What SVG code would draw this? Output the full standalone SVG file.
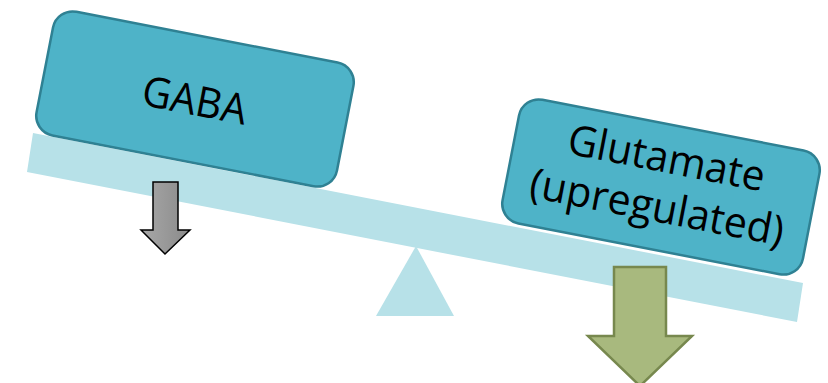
<svg xmlns="http://www.w3.org/2000/svg" width="828" height="383" viewBox="0 0 828 383">
  <style>
    .beam { fill: #B7E1E8; }
    .box { fill: #4EB3C8; stroke: #2F8193; stroke-width: 2.5; }
    .label { font-family: "Open Sans", "Noto Sans", sans-serif; font-size: 42px; fill: #000; text-anchor: middle; }
  </style>
  <defs>
    <linearGradient id="grayFill" x1="0" y1="0" x2="1" y2="0">
      <stop offset="0" stop-color="#a8a8a8"/>
      <stop offset="1" stop-color="#8a8a8a"/>
    </linearGradient>
  </defs>

  <!-- seesaw: fulcrum and tilted beam -->
  <g id="seesaw">
    <polygon class="beam" points="416,246 454,316 376,316"/>
    <polygon class="beam" points="33,133 803,283 797,322 27,172"/>
  </g>

  <!-- weights resting on the beam -->
  <g id="gaba" transform="translate(195,99) rotate(11)">
    <rect class="box" x="-153" y="-63" width="306" height="126" rx="20"/>
    <text class="label" x="0" y="16" textLength="106" lengthAdjust="spacingAndGlyphs">GABA</text>
  </g>

  <g id="glutamate" transform="translate(661,187) rotate(11)">
    <rect class="box" x="-153" y="-63" width="306" height="126" rx="20"/>
    <text class="label" x="0" y="-15" textLength="200" lengthAdjust="spacingAndGlyphs">Glutamate</text>
    <text class="label" x="0" y="35" textLength="258" lengthAdjust="spacingAndGlyphs">(upregulated)</text>
  </g>

  <!-- downward arrows -->
  <g id="connectors">
    <polygon id="gaba-arrow" points="153,182 178,182 178,230 190,230 165,254 141,230 153,230" fill="url(#grayFill)" stroke="#000" stroke-width="1.5" stroke-linejoin="miter"/>
    <polygon id="glutamate-arrow" points="614,267 666,267 666,336 692,336 640,386 588,336 614,336" fill="#A8B97E" stroke="#77884E" stroke-width="2.5"/>
  </g>
</svg>
